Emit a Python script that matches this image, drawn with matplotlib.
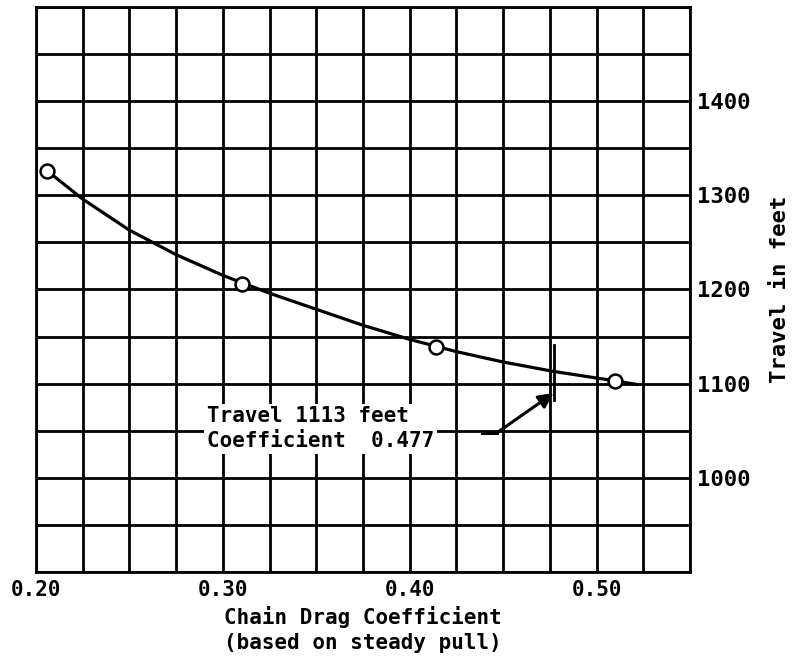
import numpy as np
import matplotlib.pyplot as plt

# measured points (open circles)
coef_pts = [0.206, 0.310, 0.414, 0.510]
travel_pts = [1326, 1206, 1139, 1103]

# curve
coef_curve = [0.206, 0.225, 0.25, 0.275, 0.30, 0.325, 0.35, 0.375, 0.40,
              0.425, 0.45, 0.477, 0.50, 0.51, 0.522]
travel_curve = [1326, 1296, 1263, 1237, 1215, 1196, 1179, 1162, 1147,
                1134, 1123, 1113, 1106, 1103, 1099]

x_ticks = [0.20, 0.30, 0.40, 0.50]
x_labels = ['0.20', '0.30', '0.40', '0.50']
y_ticks = [1000, 1100, 1200, 1300, 1400]
y_labels = ['1000', '1100', '1200', '1300', '1400']

mark_coef = 0.477
mark_travel = 1113

fnt = 'DejaVu Sans Mono'

fig = plt.figure(figsize=(8.01, 6.58), dpi=100)
ax = fig.add_axes([0.0449, 0.1307, 0.8165, 0.8587])

# grid
for gx in np.arange(0.20, 0.5501, 0.025):
    ax.axvline(gx, color='black', lw=2.0, zorder=1)
for gy in np.arange(900, 1501, 50):
    ax.axhline(gy, color='black', lw=2.0, zorder=1)

ax.plot(coef_curve, travel_curve, color='black', lw=2.3, zorder=3,
        solid_capstyle='round', solid_joinstyle='round')
ax.plot(coef_pts, travel_pts, 'o', ms=10, mfc='white', mec='black', mew=1.8, zorder=4)

# annotation
ax.plot([mark_coef, mark_coef], [1083, 1141], color='black', lw=2.0, zorder=5)
ax.annotate('', xy=(mark_coef, 1090), xytext=(0.4468, 1048),
            arrowprops=dict(arrowstyle='-|>', color='black', lw=2.2,
                            mutation_scale=22, shrinkA=0, shrinkB=0), zorder=5)
ax.plot([0.4387, 0.4468], [1048, 1048], color='black', lw=2.2, zorder=5)
ax.text(0.2915, 1052, 'Travel 1113 feet\nCoefficient  0.477', family=fnt,
        fontweight='bold', fontsize=15, ha='left', va='center', linespacing=1.3,
        bbox=dict(facecolor='white', edgecolor='none', pad=2), zorder=4)

ax.set_xlim(0.20, 0.55)
ax.set_ylim(900, 1500)
ax.set_xticks(x_ticks)
ax.set_xticklabels(x_labels, family=fnt, fontweight='bold', fontsize=15)
ax.yaxis.tick_right()
ax.set_yticks(y_ticks)
ax.set_yticklabels(y_labels, family=fnt, fontweight='bold', fontsize=16)
ax.tick_params(length=0, pad=6)
ax.tick_params(axis='y', pad=5)
for s in ax.spines.values():
    s.set_linewidth(2.0)

ax.set_xlabel('Chain Drag Coefficient\n(based on steady pull)', family=fnt,
              fontweight='bold', fontsize=15, labelpad=4, linespacing=1.3)
ax.yaxis.set_label_position('right')
ax.set_ylabel('Travel in feet', family=fnt, fontweight='bold', fontsize=16,
              rotation=90, labelpad=14)

fig.savefig('out.png', dpi=100)
